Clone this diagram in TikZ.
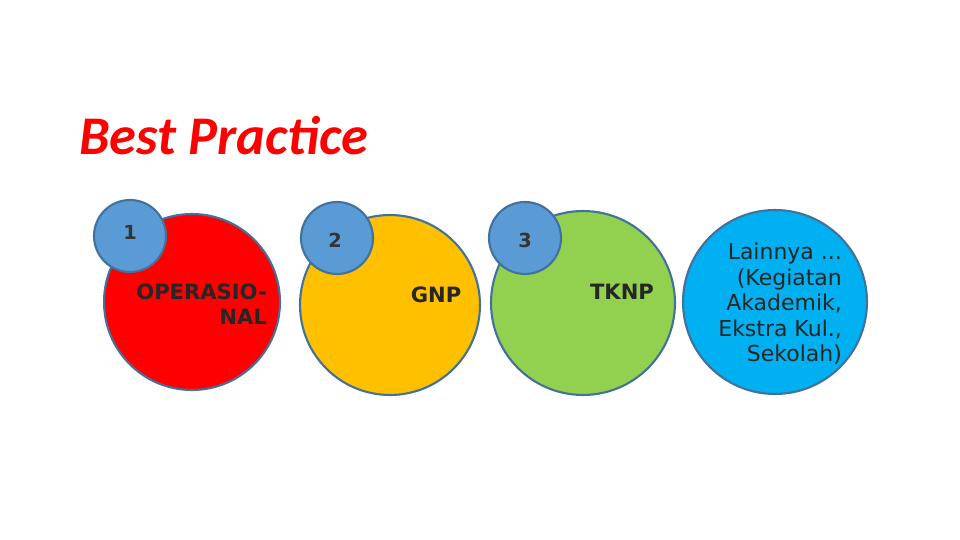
\documentclass[tikz,border=0pt]{standalone}
\usepackage{fontspec}
\setmainfont{DejaVu Sans}
\newfontfamily\titlefont{Carlito}
\definecolor{cred}{HTML}{FF0000}
\definecolor{corange}{HTML}{FFC000}
\definecolor{cgreen}{HTML}{92D050}
\definecolor{cblue}{HTML}{00B0F0}
\definecolor{csmall}{HTML}{5B9BD5}
\definecolor{cedge}{HTML}{41719C}
\begin{document}
\begin{tikzpicture}[x=0.02cm,y=-0.02cm,
  big/.style={circle,draw=cedge,line width=1.2pt,inner sep=0pt},
  small/.style={circle,draw=cedge,line width=1.2pt,fill=csmall,minimum size=1.44cm,inner sep=0pt},
  numlbl/.style={font=\bfseries\fontsize{11}{13}\selectfont,text=black!80},
  lbl/.style={font=\fontsize{12}{14}\selectfont,text=black!85,align=right}]
\useasboundingbox (0,0) rectangle (960,540);
\node[text=cred,font=\titlefont\bfseries\itshape\fontsize{31}{36}\selectfont,anchor=base west] (title) at (73,155) {Best Practice};
\node[big,fill=cred,minimum size=3.52cm] (c1) at (192,302) {};
\node[big,fill=corange,minimum size=3.6cm] (c2) at (390,305) {};
\node[big,fill=cgreen,minimum size=3.68cm] (c3) at (583,303) {};
\node[big,fill=cblue,minimum size=3.68cm] (c4) at (775,302) {};
\node[small] (n1) at (130,236) {};
\node[small] (n2) at (337,238) {};
\node[small] (n3) at (525,238) {};
\node[numlbl] (t1) at (130,232) {1};
\node[numlbl] (t2) at (335,240) {2};
\node[numlbl] (t3) at (525,240) {3};
\node[lbl,font=\bfseries\fontsize{12}{14}\selectfont,anchor=east] (l1) at (273,304) {OPERASIO-\\NAL};
\node[lbl,font=\bfseries\fontsize{12}{14}\selectfont] (l2) at (436,295) {GNP};
\node[lbl,font=\bfseries\fontsize{12}{14}\selectfont] (l3) at (622,292) {TKNP};
\node[lbl,anchor=east,font=\fontsize{12.5}{14.5}\selectfont] (l4) at (848,304) {Lainnya ...\\(Kegiatan\\Akademik,\\Ekstra Kul.,\\Sekolah)};
\end{tikzpicture}
\end{document}
